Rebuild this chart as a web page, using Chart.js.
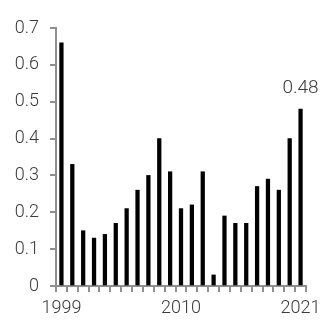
<!DOCTYPE html>
<html>
<head>
<meta charset="utf-8">
<script src="https://cdn.jsdelivr.net/npm/chart.js"></script>
<style>
  html, body { margin: 0; padding: 0; background: #fff; }
  #wrap { width: 329px; height: 324px; }
</style>
</head>
<body>
<div id="wrap"><canvas id="chart" width="329" height="324"></canvas></div>
<script>
// data
const years = ['1999','2000','2001','2002','2003','2004','2005','2006','2007','2008','2009','2010',
               '2011','2012','2013','2014','2015','2016','2017','2018','2019','2020','2021'];
const values = [0.66, 0.33, 0.15, 0.13, 0.14, 0.17, 0.21, 0.26, 0.30, 0.40, 0.31, 0.21,
                0.22, 0.31, 0.03, 0.19, 0.17, 0.17, 0.27, 0.29, 0.26, 0.40, 0.48];
const shownYears = ['1999', '2010', '2021'];
const yTicks = [0, 0.1, 0.2, 0.3, 0.4, 0.5, 0.6, 0.7];

const axisGrey = '#8f8f8f';
const textGrey = '#3a3a3a';

// label the last bar
const lastLabel = {
    id: 'lastLabel',
    afterDatasetsDraw(chart) {
        const meta = chart.getDatasetMeta(0);
        const i = values.length - 1;
        const bar = meta.data[i];
        const ctx = chart.ctx;
        ctx.save();
        ctx.font = '300 19px Roboto';
        ctx.fillStyle = textGrey;
        ctx.textAlign = 'center';
        ctx.textBaseline = 'alphabetic';
        ctx.fillText(values[i].toFixed(2), bar.x, bar.y - 16);
        ctx.restore();
    }
};

new Chart(document.getElementById('chart'), {
    type: 'bar',
    data: {
        labels: years,
        datasets: [{
            data: values,
            backgroundColor: '#000',
            barThickness: 3.6
        }]
    },
    options: {
        responsive: false,
        animation: false,
        layout: { padding: { top: 28, right: 23, left: 0, bottom: 0 } },
        plugins: {
            legend: { display: false },
            tooltip: { enabled: false }
        },
        scales: {
            x: {
                offset: true,
                grid: {
                    display: true,
                    offset: true,
                    drawOnChartArea: false,
                    drawTicks: true,
                    tickLength: 6,
                    color: axisGrey,
                    tickColor: axisGrey,
                    tickWidth: 2,
                    lineWidth: 2
                },
                border: { display: true, color: axisGrey, width: 2 },
                ticks: {
                    autoSkip: false,
                    maxRotation: 0,
                    padding: 6,
                    color: textGrey,
                    font: { family: 'Roboto', weight: 300, size: 18 },
                    callback: function(v) {
                        const y = years[v];
                        return shownYears.includes(y) ? y : '';
                    }
                },
                afterFit: function(scale) { scale.height = 38; }
            },
            y: {
                min: 0,
                max: 0.7,
                grid: {
                    display: true,
                    drawOnChartArea: false,
                    drawTicks: true,
                    tickLength: 6,
                    color: axisGrey,
                    tickColor: axisGrey,
                    tickWidth: 2,
                    lineWidth: 2
                },
                border: { display: true, color: axisGrey, width: 2 },
                afterBuildTicks: function(scale) {
                    scale.ticks = yTicks.map(v => ({ value: v }));
                },
                ticks: {
                    padding: 11,
                    color: textGrey,
                    font: { family: 'Roboto', weight: 300, size: 18 },
                    callback: function(v) { return v === 0 ? '0' : v.toFixed(1); }
                },
                afterFit: function(scale) { scale.width = 56; }
            }
        }
    },
    plugins: [lastLabel]
});
</script>
</body>
</html>
